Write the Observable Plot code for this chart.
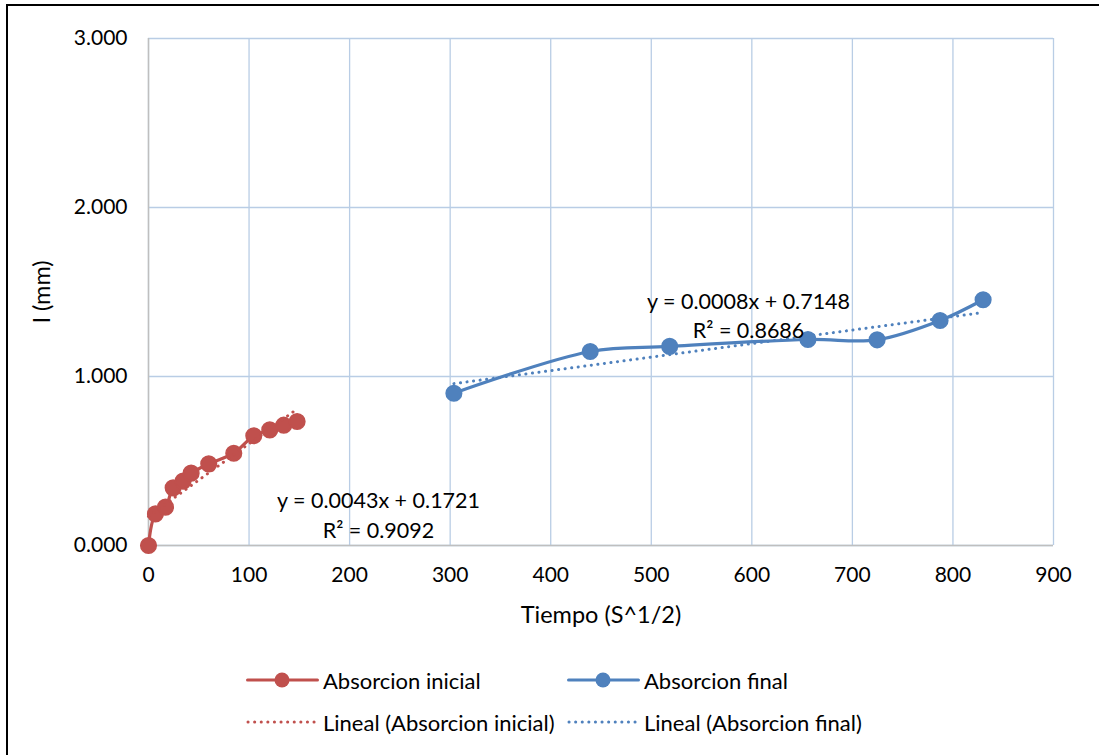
<!DOCTYPE html>
<html>
<head>
<meta charset="utf-8">
<script src="https://cdn.jsdelivr.net/npm/d3@7"></script>
<script src="https://cdn.jsdelivr.net/npm/@observablehq/plot@0.6"></script>
<style>
  html, body { margin: 0; padding: 0; background: #fff; }
  #frame { position: relative; width: 1099px; height: 755px; overflow: hidden; background: #fff; font-family: Lato, "Open Sans", sans-serif; }
  #border { position: absolute; left: 6px; top: 4px; width: 1200px; height: 900px; border-left: 2px solid #000; border-top: 2px solid #000; box-sizing: border-box; pointer-events: none; }
  #chart { position: absolute; left: 0; top: 0; }
  #legend { position: absolute; left: 0; top: 668px; width: 1099px; font-size: 22px; color: #000; }
  .item { position: absolute; display: flex; align-items: center; height: 24px; }
  .item svg { margin-right: 4px; }
</style>
</head>
<body>
<div id="frame">
  <div id="chart"></div>
  <div id="legend"></div>
  <div id="border"></div>
</div>
<script>
// Data
const inicialX = [0, 6.9, 16.9, 24.5, 34.4, 42.4, 59.9, 84.8, 104.7, 120.6, 134.5, 147.8];
const inicialY = [0.000, 0.187, 0.227, 0.341, 0.381, 0.428, 0.483, 0.546, 0.649, 0.684, 0.712, 0.734];
const finalX = [303.7, 439.3, 518.3, 655.8, 724.6, 787.2, 830.0];
const finalY = [0.901, 1.148, 1.178, 1.219, 1.217, 1.331, 1.454];

// Trendline equations shown on the chart
const trendInicial = { slope: 0.0043, intercept: 0.1721, r2: 0.9092 };
const trendFinal = { slope: 0.0008, intercept: 0.7148, r2: 0.8686 };

const xTicks = [0, 100, 200, 300, 400, 500, 600, 700, 800, 900];
const yTicks = [0, 1, 2, 3];

const xTitle = "Tiempo (S^1/2)";
const yTitle = "I (mm)";
const seriesNames = ["Absorcion inicial", "Absorcion final"];
const trendNames = ["Lineal (Absorcion inicial)", "Lineal (Absorcion final)"];
const colors = ["#c0504d", "#4f81bd"];

const inicial = inicialX.map((x, i) => ({ x, y: inicialY[i] }));
const final = finalX.map((x, i) => ({ x, y: finalY[i] }));

function trendPoints(xs, t) {
  const x0 = d3.min(xs), x1 = d3.max(xs);
  return [x0, x1].map(x => ({ x, y: t.slope * x + t.intercept }));
}
const tInicial = trendPoints(inicialX, trendInicial);
const tFinal = trendPoints(finalX, trendFinal);

function eqLabel(t) {
  return `y = ${t.slope.toFixed(4)}x + ${t.intercept.toFixed(4)}`;
}
const labels = [
  { x: 228.7, y: 0.262, text: eqLabel(trendInicial) },
  { x: 228.7, y: 0.085, text: `R² = ${trendInicial.r2.toFixed(4)}` },
  { x: 596.7, y: 1.44, text: eqLabel(trendFinal) },
  { x: 596.7, y: 1.266, text: `R² = ${trendFinal.r2.toFixed(4)}` }
];

const gridColor = "#b9cde5";
const axisColor = "#bfbfbf";

const chart = Plot.plot({
  width: 1099,
  height: 640,
  marginLeft: 148,
  marginRight: 46,
  marginTop: 38,
  marginBottom: 95,
  style: { fontFamily: "Lato, 'Open Sans', sans-serif", fontSize: "21px", color: "#000", background: "transparent" },
  x: { domain: [0, 900] },
  y: { domain: [0, 3] },
  marks: [
    Plot.gridX(xTicks, { stroke: gridColor, strokeOpacity: 1, strokeWidth: 1.3 }),
    Plot.gridY(yTicks, { stroke: gridColor, strokeOpacity: 1, strokeWidth: 1.3 }),
    Plot.ruleY([0], { stroke: axisColor, strokeWidth: 1.5 }),
    Plot.ruleX([0], { stroke: axisColor, strokeWidth: 1.5 }),
    Plot.axisX(xTicks, { tickSize: 0, tickPadding: 22, fontSize: 21, label: null, fill: "#000" }),
    Plot.axisY(yTicks, { tickSize: 0, tickPadding: 21, fontSize: 21, tickFormat: d3.format(".3f"), label: null, fill: "#000" }),
    Plot.text([xTitle], { frameAnchor: "bottom", dy: 70, fontSize: 23.5, fill: "#000", lineAnchor: "middle", textAnchor: "middle" }),
    Plot.text([yTitle], { frameAnchor: "left", dx: -106, rotate: -90, fontSize: 23.5, fill: "#000", lineAnchor: "middle", textAnchor: "middle" }),
    Plot.line(inicial, { x: "x", y: "y", stroke: colors[0], strokeWidth: 3.2, curve: "catmull-rom" }),
    Plot.line(final, { x: "x", y: "y", stroke: colors[1], strokeWidth: 3.2, curve: "catmull-rom" }),
    Plot.dot(inicial, { x: "x", y: "y", r: 7.8, fill: colors[0], stroke: colors[0] }),
    Plot.dot(final, { x: "x", y: "y", r: 7.8, fill: colors[1], stroke: colors[1] }),
    Plot.line(tInicial, { x: "x", y: "y", stroke: colors[0], strokeWidth: 3, strokeDasharray: "0.1,6.5", strokeLinecap: "round" }),
    Plot.line(tFinal, { x: "x", y: "y", stroke: colors[1], strokeWidth: 3, strokeDasharray: "0.1,6.5", strokeLinecap: "round" }),
    Plot.text(labels, { x: "x", y: "y", text: "text", fontSize: 21.5, fill: "#000", textAnchor: "middle" })
  ]
});
document.getElementById("chart").appendChild(chart);

// Legend
const legend = document.getElementById("legend");
const legendItems = [
  { name: seriesNames[0], color: colors[0], type: "line", left: 246, top: 12 },
  { name: seriesNames[1], color: colors[1], type: "line", left: 567, top: 12 },
  { name: trendNames[0], color: colors[0], type: "dot", left: 246, top: 54 },
  { name: trendNames[1], color: colors[1], type: "dot", left: 567, top: 54 }
];
for (const it of legendItems) {
  const div = document.createElement("div");
  div.className = "item";
  div.style.left = it.left + "px";
  div.style.top = (it.top - 12) + "px";
  const sw = it.type === "line"
    ? `<svg width="73" height="24"><line x1="1.5" y1="12" x2="71.5" y2="12" stroke="${it.color}" stroke-width="3" stroke-linecap="round"/><circle cx="36" cy="12" r="7.5" fill="${it.color}"/></svg>`
    : `<svg width="73" height="24"><line x1="2" y1="12" x2="72" y2="12" stroke="${it.color}" stroke-width="3" stroke-dasharray="0.1,6.5" stroke-linecap="round"/></svg>`;
  div.innerHTML = sw + `<span>${it.name}</span>`;
  legend.appendChild(div);
}
</script>
</body>
</html>
